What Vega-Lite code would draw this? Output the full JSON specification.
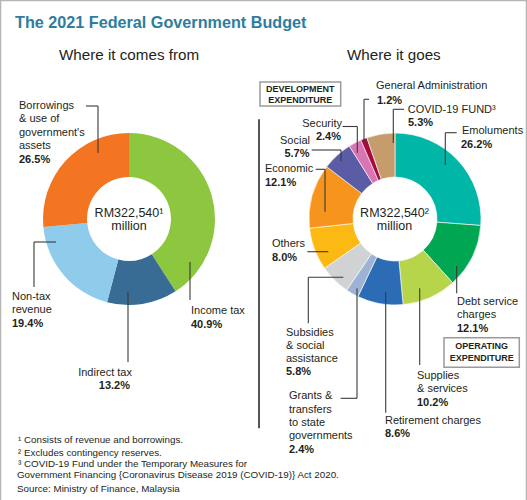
{
  "$schema": "https://vega.github.io/schema/vega-lite/v6.json",
  "width": 527,
  "height": 500,
  "padding": 0,
  "autosize": "none",
  "background": "white",
  "config": {
    "view": {"stroke": null},
    "axis": {"disable": true},
    "font": "Liberation Sans",
    "text": {"font": "Liberation Sans", "color": "#231f20"}
  },
  "datasets": {
    "income": [
      {"side": "from", "rank": 1, "item": "Income tax", "share": 40.9},
      {"side": "from", "rank": 2, "item": "Indirect tax", "share": 13.2},
      {"side": "from", "rank": 3, "item": "Non-tax revenue", "share": 19.4},
      {"side": "from", "rank": 4, "item": "Borrowings & use of government's assets", "share": 26.5}
    ],
    "spend": [
      {"side": "goes", "rank": 1, "item": "Emoluments", "share": 26.2},
      {"side": "goes", "rank": 2, "item": "Debt service charges", "share": 12.1},
      {"side": "goes", "rank": 3, "item": "Supplies & services", "share": 10.2},
      {"side": "goes", "rank": 4, "item": "Retirement charges", "share": 8.6},
      {"side": "goes", "rank": 5, "item": "Grants & transfers to state governments", "share": 2.4},
      {"side": "goes", "rank": 6, "item": "Subsidies & social assistance", "share": 5.8},
      {"side": "goes", "rank": 7, "item": "Others", "share": 8.0},
      {"side": "goes", "rank": 8, "item": "Economic", "share": 12.1},
      {"side": "goes", "rank": 9, "item": "Social", "share": 5.7},
      {"side": "goes", "rank": 10, "item": "Security", "share": 2.4},
      {"side": "goes", "rank": 11, "item": "General Administration", "share": 1.2},
      {"side": "goes", "rank": 12, "item": "COVID-19 FUND", "share": 5.3}
    ],
    "nameL": [
      {"t": "Borrowings\n& use of\ngovernment's\nassets", "x": 19, "y": 109},
      {"t": "Non-tax\nrevenue", "x": 12, "y": 300},
      {"t": "Income tax", "x": 191, "y": 314},
      {"t": "General Administration", "x": 376, "y": 89},
      {"t": "COVID-19 FUND³", "x": 407.7, "y": 112.7},
      {"t": "Emoluments", "x": 462, "y": 134},
      {"t": "Economic", "x": 265, "y": 172},
      {"t": "Others", "x": 272, "y": 247.3},
      {"t": "Subsidies\n& social\nassistance", "x": 286, "y": 335.7},
      {"t": "Grants &\ntransfers\nto state\ngovernments", "x": 289, "y": 399.3},
      {"t": "Retirement charges", "x": 385, "y": 424.3},
      {"t": "Supplies\n& services", "x": 417, "y": 379},
      {"t": "Debt service\ncharges", "x": 457, "y": 305}
    ],
    "nameR": [
      {"t": "Indirect tax", "x": 132, "y": 376},
      {"t": "Security", "x": 342, "y": 127},
      {"t": "Social", "x": 310, "y": 144}
    ],
    "pctL": [
      {"t": "26.5%", "x": 19, "y": 163},
      {"t": "19.4%", "x": 12, "y": 327},
      {"t": "40.9%", "x": 191, "y": 328},
      {"t": "1.2%", "x": 377, "y": 104},
      {"t": "5.3%", "x": 408, "y": 126},
      {"t": "26.2%", "x": 461, "y": 148},
      {"t": "12.1%", "x": 265, "y": 185.7},
      {"t": "8.0%", "x": 272, "y": 260.7},
      {"t": "5.8%", "x": 286, "y": 375},
      {"t": "2.4%", "x": 289, "y": 452.7},
      {"t": "8.6%", "x": 385, "y": 437.3},
      {"t": "10.2%", "x": 417, "y": 405.7},
      {"t": "12.1%", "x": 457, "y": 331.7}
    ],
    "pctR": [
      {"t": "13.2%", "x": 130, "y": 389},
      {"t": "2.4%", "x": 341, "y": 140},
      {"t": "5.7%", "x": 309.5, "y": 157.3}
    ],
    "centre": [
      {"t": "RM322,540¹\nmillion", "x": 129, "y": 217},
      {"t": "RM322,540²\nmillion", "x": 394.5, "y": 217}
    ],
    "leaders": [
      {"x": 86, "y": 106, "x2": 98, "y2": 106},
      {"x": 98, "y": 106, "x2": 98, "y2": 153},
      {"x": 34, "y": 242, "x2": 56, "y2": 242},
      {"x": 34, "y": 242, "x2": 34, "y2": 287},
      {"x": 128, "y": 292, "x2": 128, "y2": 362},
      {"x": 190, "y": 262, "x2": 190, "y2": 300},
      {"x": 364, "y": 99.3, "x2": 369, "y2": 99.3},
      {"x": 364, "y": 99.3, "x2": 364, "y2": 143},
      {"x": 393.3, "y": 109.3, "x2": 404, "y2": 109.3},
      {"x": 393.3, "y": 109.3, "x2": 393.3, "y2": 143},
      {"x": 445.3, "y": 132.7, "x2": 456.7, "y2": 132.7},
      {"x": 445.3, "y": 132.7, "x2": 445.3, "y2": 165},
      {"x": 342.5, "y": 126.5, "x2": 357.3, "y2": 126.5},
      {"x": 357.3, "y": 126.5, "x2": 357.3, "y2": 152.7},
      {"x": 311.7, "y": 150, "x2": 341, "y2": 150},
      {"x": 341, "y": 150, "x2": 341, "y2": 161},
      {"x": 315.7, "y": 169.3, "x2": 325, "y2": 169.3},
      {"x": 325, "y": 169.3, "x2": 325, "y2": 211.7},
      {"x": 307.3, "y": 251.7, "x2": 328.3, "y2": 251.7},
      {"x": 308.3, "y": 277.3, "x2": 343.3, "y2": 277.3},
      {"x": 308.3, "y": 277.3, "x2": 308.3, "y2": 323.3},
      {"x": 357, "y": 288.3, "x2": 357, "y2": 398.3},
      {"x": 340.7, "y": 398.3, "x2": 357, "y2": 398.3},
      {"x": 385.7, "y": 291.7, "x2": 385.7, "y2": 412.7},
      {"x": 419.7, "y": 288.3, "x2": 419.7, "y2": 365},
      {"x": 456.7, "y": 266, "x2": 456.7, "y2": 293.3}
    ],
    "divider": [
      {"x": 259, "y": 119.3, "x2": 259, "y2": 428.3}
    ],
    "frame": [
      {"x": 0.5, "y": 0, "x2": 0.5, "y2": 500},
      {"x": 0, "y": 0.5, "x2": 527, "y2": 0.5},
      {"x": 526.5, "y": 0, "x2": 526.5, "y2": 500}
    ],
    "boxes": [
      {"x": 260, "y": 82, "x2": 340.7, "y2": 106},
      {"x": 444, "y": 337.7, "x2": 519.3, "y2": 367.3}
    ],
    "boxText": [
      {"t": "DEVELOPMENT\nEXPENDITURE", "x": 300.3, "y": 91.7},
      {"t": "OPERATING\nEXPENDITURE", "x": 481.7, "y": 349}
    ],
    "title": [
      {"t": "The 2021 Federal Government Budget", "x": 15, "y": 28}
    ],
    "subtitles": [
      {"t": "Where it comes from", "x": 59, "y": 60},
      {"t": "Where it goes", "x": 347, "y": 60}
    ],
    "notes": [
      {"t": "¹ Consists of revenue and borrowings.", "x": 18, "y": 443},
      {"t": "² Excludes contingency reserves.", "x": 18, "y": 455.5},
      {"t": "³ COVID-19 Fund under the Temporary Measures for", "x": 18, "y": 466.7},
      {"t": "Government Financing {Coronavirus Disease 2019 (COVID-19)} Act 2020.", "x": 17, "y": 477.5},
      {"t": "Source: Ministry of Finance, Malaysia", "x": 17, "y": 492}
    ]
  },
  "resolve": {"scale": {"x": "independent", "y": "independent", "theta": "independent", "color": "independent"}},
  "layer": [
    {
      "data": {"name": "income"},
      "mark": {"type": "arc", "outerRadius": 86, "innerRadius": 42},
      "encoding": {
        "x": {"field": "side", "type": "nominal", "scale": {"type": "point", "range": [129, 129]}},
        "y": {"field": "side", "type": "nominal", "scale": {"type": "point", "range": [219, 219]}},
        "theta": {"field": "share", "type": "quantitative", "stack": true},
        "order": {"field": "rank", "type": "quantitative"},
        "color": {
          "field": "item", "type": "nominal", "legend": null,
          "scale": {
            "domain": ["Income tax", "Indirect tax", "Non-tax revenue", "Borrowings & use of government's assets"],
            "range": ["#8dc63f", "#386c94", "#8fcbeb", "#f37421"]
          }
        }
      }
    },
    {
      "data": {"name": "spend"},
      "mark": {"type": "arc", "outerRadius": 86, "innerRadius": 42, "stroke": "white", "strokeWidth": 0.6},
      "encoding": {
        "x": {"field": "side", "type": "nominal", "scale": {"type": "point", "range": [395, 395]}},
        "y": {"field": "side", "type": "nominal", "scale": {"type": "point", "range": [219, 219]}},
        "theta": {"field": "share", "type": "quantitative", "stack": true},
        "order": {"field": "rank", "type": "quantitative"},
        "color": {
          "field": "item", "type": "nominal", "legend": null,
          "scale": {
            "domain": ["Emoluments", "Debt service charges", "Supplies & services", "Retirement charges", "Grants & transfers to state governments", "Subsidies & social assistance", "Others", "Economic", "Social", "Security", "General Administration", "COVID-19 FUND"],
            "range": ["#00b6a6", "#00a651", "#b7d54a", "#2b6cb5", "#9db3d6", "#d0d2d3", "#fdb913", "#f7941d", "#5a5ca6", "#d876b4", "#a50b3c", "#c69c6d"]
          }
        }
      }
    },
    {
      "encoding": {
        "x": {"field": "x", "type": "quantitative", "scale": {"domain": [0, 527], "range": [0, 527], "nice": false, "zero": false}},
        "y": {"field": "y", "type": "quantitative", "scale": {"domain": [0, 500], "range": [0, 500], "nice": false, "zero": false}}
      },
      "layer": [
        {
          "data": {"name": "frame"},
          "mark": {"type": "rule", "color": "#b5b5b5", "strokeWidth": 1.5},
          "encoding": {"x2": {"field": "x2"}, "y2": {"field": "y2"}}
        },
        {
          "data": {"name": "leaders"},
          "mark": {"type": "rule", "color": "#3a3a3a", "strokeWidth": 1.1},
          "encoding": {"x2": {"field": "x2"}, "y2": {"field": "y2"}}
        },
        {
          "data": {"name": "divider"},
          "mark": {"type": "rule", "color": "#555555", "strokeWidth": 2},
          "encoding": {"x2": {"field": "x2"}, "y2": {"field": "y2"}}
        },
        {
          "data": {"name": "boxes"},
          "mark": {"type": "rect", "fill": "white", "stroke": "#9a9a9a", "strokeWidth": 1.5},
          "encoding": {"x2": {"field": "x2"}, "y2": {"field": "y2"}}
        },
        {
          "data": {"name": "boxText"},
          "mark": {"type": "text", "align": "center", "baseline": "alphabetic", "fontWeight": "bold", "fontSize": 9, "lineBreak": "\n", "lineHeight": 11.5},
          "encoding": {"text": {"field": "t"}}
        },
        {
          "data": {"name": "centre"},
          "mark": {"type": "text", "align": "center", "baseline": "alphabetic", "fontSize": 12.5, "lineBreak": "\n", "lineHeight": 13},
          "encoding": {"text": {"field": "t"}}
        },
        {
          "data": {"name": "nameL"},
          "mark": {"type": "text", "align": "left", "baseline": "alphabetic", "fontSize": 11, "lineBreak": "\n", "lineHeight": 13.4},
          "encoding": {"text": {"field": "t"}}
        },
        {
          "data": {"name": "nameR"},
          "mark": {"type": "text", "align": "right", "baseline": "alphabetic", "fontSize": 11, "lineBreak": "\n", "lineHeight": 13.4},
          "encoding": {"text": {"field": "t"}}
        },
        {
          "data": {"name": "pctL"},
          "mark": {"type": "text", "align": "left", "baseline": "alphabetic", "fontSize": 11, "fontWeight": "bold"},
          "encoding": {"text": {"field": "t"}}
        },
        {
          "data": {"name": "pctR"},
          "mark": {"type": "text", "align": "right", "baseline": "alphabetic", "fontSize": 11, "fontWeight": "bold"},
          "encoding": {"text": {"field": "t"}}
        },
        {
          "data": {"name": "title"},
          "mark": {"type": "text", "align": "left", "baseline": "alphabetic", "fontSize": 16.2, "fontWeight": "bold", "color": "#2e7d9e"},
          "encoding": {"text": {"field": "t"}}
        },
        {
          "data": {"name": "subtitles"},
          "mark": {"type": "text", "align": "left", "baseline": "alphabetic", "fontSize": 15.2},
          "encoding": {"text": {"field": "t"}}
        },
        {
          "data": {"name": "notes"},
          "mark": {"type": "text", "align": "left", "baseline": "alphabetic", "fontSize": 9.8},
          "encoding": {"text": {"field": "t"}}
        }
      ]
    }
  ]
}
